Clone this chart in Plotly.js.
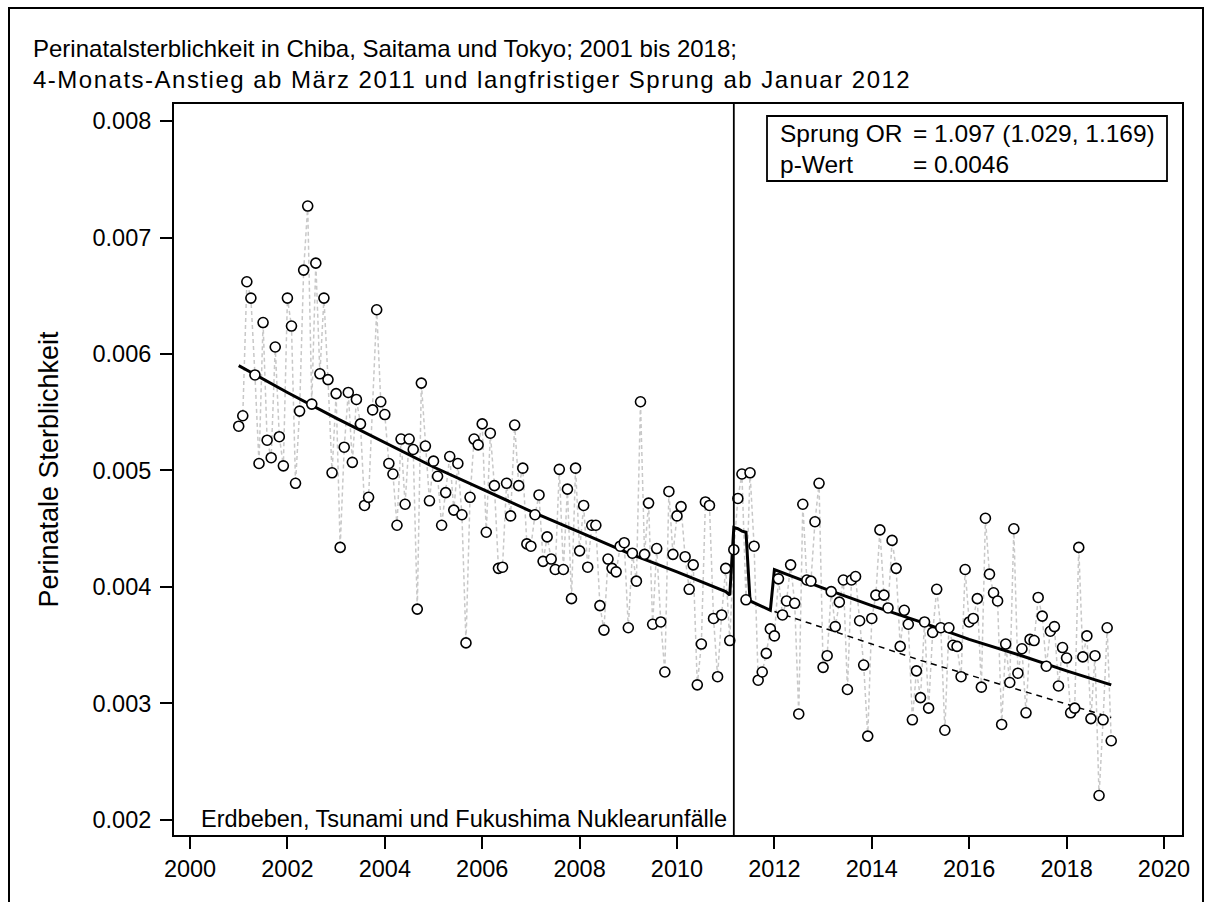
<!DOCTYPE html>
<html>
<head>
<meta charset="utf-8">
<script src="https://cdn.plot.ly/plotly-3.0.1.min.js"></script>
<style>html,body{margin:0;padding:0;background:#fff;}#chart{width:1209px;height:902px;}</style>
</head>
<body>
<div id="chart"></div>
<script>
// Monthly perinatal mortality, Jan..Dec of each year
const rate2001 = [0.00538, 0.00547, 0.00662, 0.00648, 0.00582, 0.00506, 0.00627, 0.00526, 0.00511, 0.00606, 0.00529, 0.00504];
const rate2002 = [0.00648, 0.00624, 0.00489, 0.00551, 0.00672, 0.00727, 0.00557, 0.00678, 0.00583, 0.00648, 0.00578, 0.00498];
const rate2003 = [0.00566, 0.00434, 0.00520, 0.00567, 0.00507, 0.00561, 0.00540, 0.00470, 0.00477, 0.00552, 0.00638, 0.00559];
const rate2004 = [0.00548, 0.00506, 0.00497, 0.00453, 0.00527, 0.00471, 0.00527, 0.00518, 0.00381, 0.00575, 0.00521, 0.00474];
const rate2005 = [0.00508, 0.00495, 0.00453, 0.00481, 0.00512, 0.00466, 0.00506, 0.00462, 0.00352, 0.00477, 0.00527, 0.00522];
const rate2006 = [0.00540, 0.00447, 0.00532, 0.00487, 0.00416, 0.00417, 0.00489, 0.00461, 0.00539, 0.00487, 0.00502, 0.00437];
const rate2007 = [0.00435, 0.00462, 0.00479, 0.00422, 0.00443, 0.00424, 0.00415, 0.00501, 0.00415, 0.00484, 0.00390, 0.00502];
const rate2008 = [0.00431, 0.00470, 0.00417, 0.00453, 0.00453, 0.00384, 0.00363, 0.00424, 0.00416, 0.00413, 0.00435, 0.00438];
const rate2009 = [0.00365, 0.00429, 0.00405, 0.00559, 0.00428, 0.00472, 0.00368, 0.00433, 0.00370, 0.00327, 0.00482, 0.00428];
const rate2010 = [0.00461, 0.00469, 0.00426, 0.00398, 0.00419, 0.00316, 0.00351, 0.00473, 0.00470, 0.00373, 0.00323, 0.00376];
const rate2011 = [0.00416, 0.00354, 0.00432, 0.00476, 0.00497, 0.00389, 0.00498, 0.00435, 0.00320, 0.00327, 0.00343, 0.00364];
const rate2012 = [0.00358, 0.00407, 0.00376, 0.00388, 0.00419, 0.00386, 0.00291, 0.00471, 0.00406, 0.00405, 0.00456, 0.00489];
const rate2013 = [0.00331, 0.00341, 0.00396, 0.00366, 0.00387, 0.00406, 0.00312, 0.00406, 0.00409, 0.00371, 0.00333, 0.00272];
const rate2014 = [0.00373, 0.00393, 0.00449, 0.00393, 0.00382, 0.00440, 0.00416, 0.00349, 0.00380, 0.00368, 0.00286, 0.00328];
const rate2015 = [0.00305, 0.00370, 0.00296, 0.00361, 0.00398, 0.00365, 0.00277, 0.00365, 0.00350, 0.00349, 0.00323, 0.00415];
const rate2016 = [0.00370, 0.00373, 0.00390, 0.00314, 0.00459, 0.00411, 0.00395, 0.00388, 0.00282, 0.00351, 0.00318, 0.00450];
const rate2017 = [0.00326, 0.00347, 0.00292, 0.00355, 0.00354, 0.00391, 0.00375, 0.00332, 0.00362, 0.00366, 0.00315, 0.00348];
const rate2018 = [0.00339, 0.00292, 0.00296, 0.00434, 0.00340, 0.00358, 0.00287, 0.00341, 0.00221, 0.00286, 0.00365, 0.00268];

const years = [2001,2002,2003,2004,2005,2006,2007,2008,2009,2010,2011,2012,2013,2014,2015,2016,2017,2018];

// Fitted model (solid): time (decimal year) and value
const fitX = [2001, 2002, 2003, 2004, 2005, 2006, 2007, 2008, 2009, 2010, 2011, 2011.0833,
              2011.1667, 2011.25, 2011.3333, 2011.4167, 2011.5, 2011.9167,
              2012, 2013, 2014, 2015, 2016, 2017, 2018, 2018.9167];
const fitY = [0.00590, 0.00567, 0.00545, 0.00524, 0.00503, 0.00484, 0.00465, 0.00447, 0.00429, 0.00413, 0.00396, 0.00393,
              0.00451, 0.00450, 0.00448, 0.00447, 0.00388, 0.00380,
              0.00415, 0.00399, 0.00384, 0.00370, 0.00355, 0.00342, 0.00328, 0.00316];
// Counterfactual trend without the jump (dashed)
const cfX = [2012, 2015, 2018.9167];
const cfY = [0.00379, 0.00337, 0.00288];

const eventDate = 2011.1667; // March 2011
const xTicks = [2000,2002,2004,2006,2008,2010,2012,2014,2016,2018,2020];
const yTicks = [0.002,0.003,0.004,0.005,0.006,0.007,0.008];

const titleLine1 = 'Perinatalsterblichkeit in Chiba, Saitama und Tokyo; 2001 bis 2018;';
const titleLine2 = '4-Monats-Anstieg ab März 2011 und langfristiger Sprung ab Januar 2012';
const yTitle = 'Perinatale Sterblichkeit';
const eventLabel = 'Erdbeben, Tsunami und Fukushima Nuklearunfälle';
const statLabels = ['Sprung OR', 'p-Wert'];
const statValues = ['= 1.097 (1.029, 1.169)', '= 0.0046'];

const allRates = [rate2001,rate2002,rate2003,rate2004,rate2005,rate2006,rate2007,rate2008,rate2009,
  rate2010,rate2011,rate2012,rate2013,rate2014,rate2015,rate2016,rate2017,rate2018];
const xs = [], ys = [];
allRates.forEach((arr, k) => arr.forEach((v, m) => { xs.push(years[k] + m / 12); ys.push(v); }));

const FONT = 'Arial, "Liberation Sans", sans-serif';

const traces = [
  {x: xs, y: ys, type: 'scatter', mode: 'lines', line: {color: '#c8c8c8', width: 1.5, dash: '4px,3px'}, hoverinfo: 'skip', showlegend: false},
  {x: cfX, y: cfY, type: 'scatter', mode: 'lines', line: {color: '#000', width: 1.5, dash: '6px,5px'}, showlegend: false},
  {x: fitX, y: fitY, type: 'scatter', mode: 'lines', line: {color: '#000', width: 3}, showlegend: false},
  {x: xs, y: ys, type: 'scatter', mode: 'markers', marker: {symbol: 'circle', size: 10, color: '#fff', line: {color: '#000', width: 1.6}}, showlegend: false}
];

const L = 174, R = 27, T = 104, B = 67, W = 1209, H = 902;
const pw = W - L - R, ph = H - T - B;
const px = v => (v - L) / pw;
const py = v => (H - B - v) / ph;

const TICKF = 23.5;
const LEGF = 24.5;
const layout = {
  width: W, height: H,
  margin: {l: L, r: R, t: T, b: B},
  paper_bgcolor: '#fff', plot_bgcolor: '#fff',
  font: {family: FONT, color: '#000', size: TICKF},
  title: {text: titleLine1 + '<br><span style="letter-spacing:1.5px">' + titleLine2 + '</span>',
          x: 33 / W, xref: 'container', xanchor: 'left', y: 1 - 57 / H, yref: 'container', yanchor: 'top',
          font: {family: FONT, size: 24, color: '#000'}},
  xaxis: {range: [1999.671, 2020.37], tickmode: 'array', tickvals: xTicks, ticktext: xTicks.map(String),
          ticks: 'outside', ticklen: 12, tickwidth: 2, tickcolor: '#000', showline: true, linewidth: 2, linecolor: '#000',
          mirror: true, showgrid: false, zeroline: false, tickfont: {family: FONT, size: TICKF}},
  yaxis: {range: [0.001871, 0.008146], tickmode: 'array', tickvals: yTicks, ticktext: yTicks.map(v => v.toFixed(3)),
          ticks: 'outside', ticklen: 12, tickwidth: 2, tickcolor: '#000', showline: true, linewidth: 2, linecolor: '#000',
          mirror: true, showgrid: false, zeroline: false, tickfont: {family: FONT, size: TICKF}, ticklabelstandoff: 4,
          title: {text: yTitle, font: {family: FONT, size: 27}, standoff: 26}},
  shapes: [
    {type: 'line', xref: 'x', yref: 'paper', x0: eventDate, x1: eventDate, y0: 0, y1: 1, line: {color: '#000', width: 1.8}},
    {type: 'rect', xref: 'paper', yref: 'paper', x0: px(767), x1: px(1167), y0: py(181), y1: py(116), line: {color: '#000', width: 1.8}, fillcolor: 'rgba(0,0,0,0)'},
    {type: 'rect', xref: 'paper', yref: 'paper', x0: px(9), x1: px(1203), y0: py(920), y1: py(8), line: {color: '#000', width: 2}, fillcolor: 'rgba(0,0,0,0)', layer: 'below'}
  ],
  annotations: [
    {xref: 'x', yref: 'paper', x: eventDate, y: 0, xanchor: 'right', yanchor: 'bottom', xshift: -5, yshift: 1,
     text: eventLabel, showarrow: false, font: {family: FONT, size: 23.5}},
    {xref: 'paper', yref: 'paper', x: px(778), y: py(133), xanchor: 'left', yanchor: 'middle', text: statLabels[0], showarrow: false, font: {family: FONT, size: LEGF}},
    {xref: 'paper', yref: 'paper', x: px(911), y: py(133), xanchor: 'left', yanchor: 'middle', text: statValues[0], showarrow: false, font: {family: FONT, size: LEGF}},
    {xref: 'paper', yref: 'paper', x: px(778), y: py(164), xanchor: 'left', yanchor: 'middle', text: statLabels[1], showarrow: false, font: {family: FONT, size: LEGF}},
    {xref: 'paper', yref: 'paper', x: px(911), y: py(164), xanchor: 'left', yanchor: 'middle', text: statValues[1], showarrow: false, font: {family: FONT, size: LEGF}}
  ]
};

Plotly.newPlot('chart', traces, layout, {displayModeBar: false, staticPlot: true});
</script>
</body>
</html>
